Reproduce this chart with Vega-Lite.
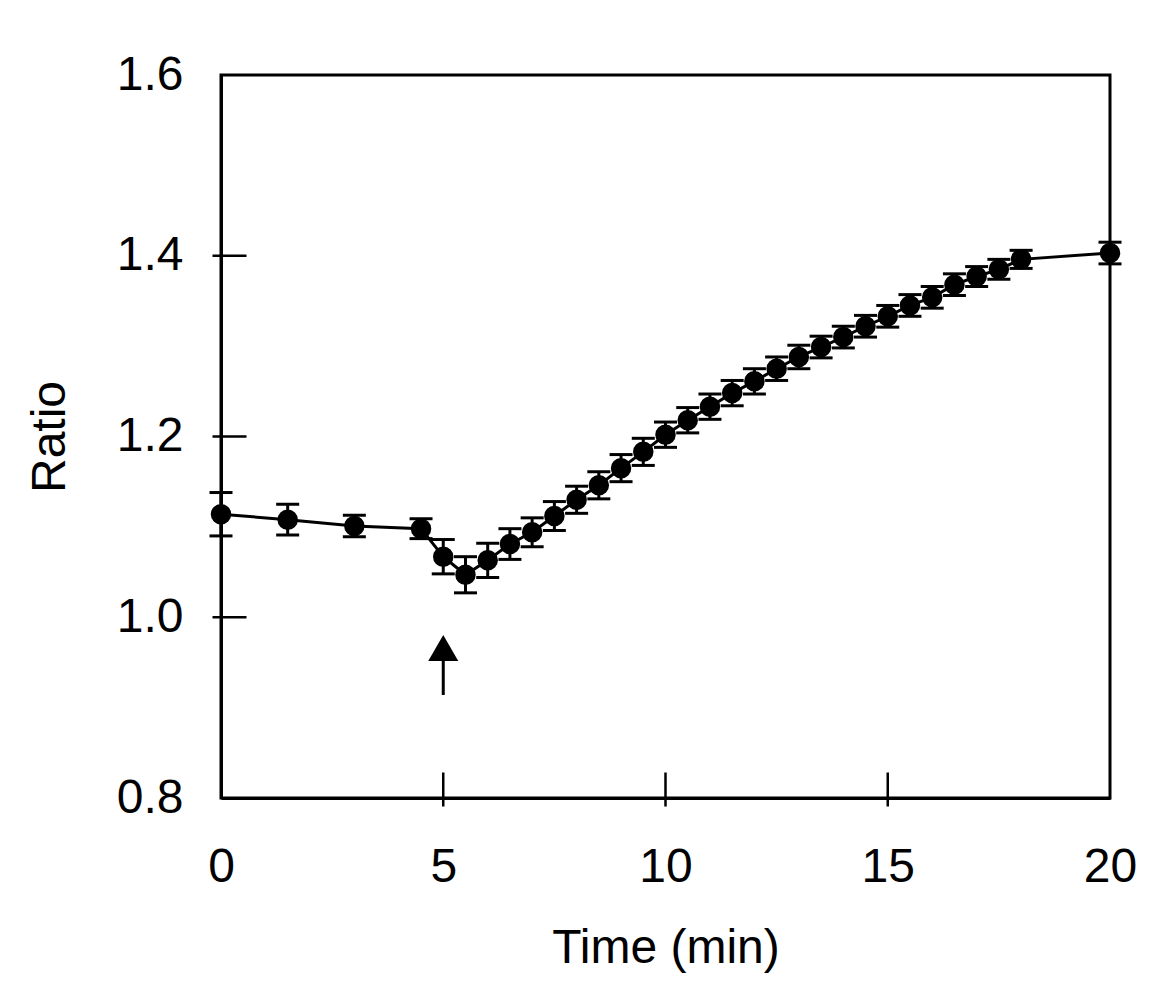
{
  "$schema": "https://vega.github.io/schema/vega-lite/v6.json",
  "width": 889,
  "height": 723,
  "autosize": "none",
  "padding": {"left": 221, "top": 75, "right": 64, "bottom": 208},
  "background": "white",
  "config": {
    "font": "Liberation Sans",
    "view": {"stroke": "black", "strokeWidth": 3},
    "axis": {
      "grid": false,
      "zindex": 1,
      "domainColor": "black",
      "domainWidth": 3,
      "ticks": false,
      "labelFont": "Liberation Sans",
      "labelFontSize": 48,
      "labelColor": "black",
      "titleFont": "Liberation Sans",
      "titleFontSize": 48,
      "titleFontWeight": "normal",
      "titleColor": "black"
    }
  },
  "datasets": {
    "series": [
      {"time": 0, "ratio": 1.114, "err": 0.024},
      {"time": 1.5, "ratio": 1.108, "err": 0.017},
      {"time": 3, "ratio": 1.101, "err": 0.012},
      {"time": 4.5, "ratio": 1.098, "err": 0.011},
      {"time": 5, "ratio": 1.067, "err": 0.019},
      {"time": 5.5, "ratio": 1.047, "err": 0.02},
      {"time": 6, "ratio": 1.063, "err": 0.019},
      {"time": 6.5, "ratio": 1.081, "err": 0.017},
      {"time": 7, "ratio": 1.094, "err": 0.016},
      {"time": 7.5, "ratio": 1.112, "err": 0.016},
      {"time": 8, "ratio": 1.13, "err": 0.015},
      {"time": 8.5, "ratio": 1.146, "err": 0.015},
      {"time": 9, "ratio": 1.165, "err": 0.015},
      {"time": 9.5, "ratio": 1.183, "err": 0.015},
      {"time": 10, "ratio": 1.202, "err": 0.014},
      {"time": 10.5, "ratio": 1.218, "err": 0.014},
      {"time": 11, "ratio": 1.233, "err": 0.014},
      {"time": 11.5, "ratio": 1.248, "err": 0.014},
      {"time": 12, "ratio": 1.261, "err": 0.014},
      {"time": 12.5, "ratio": 1.275, "err": 0.013},
      {"time": 13, "ratio": 1.288, "err": 0.013},
      {"time": 13.5, "ratio": 1.299, "err": 0.012},
      {"time": 14, "ratio": 1.31, "err": 0.012},
      {"time": 14.5, "ratio": 1.322, "err": 0.012},
      {"time": 15, "ratio": 1.333, "err": 0.012},
      {"time": 15.5, "ratio": 1.345, "err": 0.012},
      {"time": 16, "ratio": 1.354, "err": 0.012},
      {"time": 16.5, "ratio": 1.368, "err": 0.012},
      {"time": 17, "ratio": 1.377, "err": 0.011},
      {"time": 17.5, "ratio": 1.385, "err": 0.011},
      {"time": 18, "ratio": 1.396, "err": 0.01},
      {"time": 20, "ratio": 1.403, "err": 0.012}
    ],
    "arrow": [
      {"time": 5, "tail": 0.914, "head": 0.955, "tip": 0.966}
    ],
    "xticks": [{"t": 5}, {"t": 10}, {"t": 15}],
    "yticks": [{"v": 1.0}, {"v": 1.2}, {"v": 1.4}]
  },
  "layer": [
    {
      "data": {"name": "series"},
      "mark": {"type": "line", "color": "black", "strokeWidth": 3},
      "encoding": {
        "x": {
          "field": "time", "type": "quantitative",
          "scale": {"domain": [0, 20], "nice": false, "zero": false},
          "axis": {"title": "Time (min)", "values": [0, 5, 10, 15, 20], "labelPadding": 45, "titlePadding": 33, "labelFlush": false}
        },
        "y": {
          "field": "ratio", "type": "quantitative",
          "scale": {"domain": [0.8, 1.6], "nice": false, "zero": false},
          "axis": {"title": "Ratio", "values": [0.8, 1.0, 1.2, 1.4, 1.6], "format": ".1f", "labelPadding": 38, "titlePadding": 42, "labelFlush": false}
        }
      }
    },
    {
      "data": {"name": "xticks"},
      "mark": {"type": "tick", "orient": "vertical", "size": 34, "thickness": 2.5, "color": "black", "opacity": 1, "yOffset": -8.5},
      "encoding": {
        "x": {"field": "t", "type": "quantitative", "title": "Time (min)"},
        "y": {"datum": 0.8, "type": "quantitative", "title": "Ratio"}
      }
    },
    {
      "data": {"name": "yticks"},
      "mark": {"type": "tick", "orient": "horizontal", "size": 34, "thickness": 2.5, "color": "black", "opacity": 1, "xOffset": 8.5},
      "encoding": {
        "x": {"datum": 0, "type": "quantitative", "title": "Time (min)"},
        "y": {"field": "v", "type": "quantitative", "title": "Ratio"}
      }
    },
    {
      "data": {"name": "series"},
      "mark": {"type": "errorbar", "ticks": {"size": 23, "thickness": 3, "color": "black", "opacity": 1}, "rule": {"strokeWidth": 3, "color": "black", "opacity": 1}, "color": "black", "opacity": 1},
      "encoding": {
        "x": {"field": "time", "type": "quantitative", "title": "Time (min)"},
        "y": {"field": "ratio", "type": "quantitative", "title": "Ratio"},
        "yError": {"field": "err"}
      }
    },
    {
      "data": {"name": "series"},
      "mark": {"type": "point", "filled": true, "shape": "circle", "size": 420, "color": "black", "opacity": 1},
      "encoding": {
        "x": {"field": "time", "type": "quantitative", "title": "Time (min)"},
        "y": {"field": "ratio", "type": "quantitative", "title": "Ratio"}
      }
    },
    {
      "data": {"name": "arrow"},
      "mark": {"type": "rule", "color": "black", "strokeWidth": 3},
      "encoding": {
        "x": {"field": "time", "type": "quantitative", "title": "Time (min)"},
        "y": {"field": "tail", "type": "quantitative", "title": "Ratio"},
        "y2": {"field": "head"}
      }
    },
    {
      "data": {"name": "arrow"},
      "mark": {"type": "point", "filled": true, "shape": "triangle-up", "size": 900, "color": "black", "opacity": 1},
      "encoding": {
        "x": {"field": "time", "type": "quantitative", "title": "Time (min)"},
        "y": {"field": "tip", "type": "quantitative", "title": "Ratio"}
      }
    }
  ]
}
